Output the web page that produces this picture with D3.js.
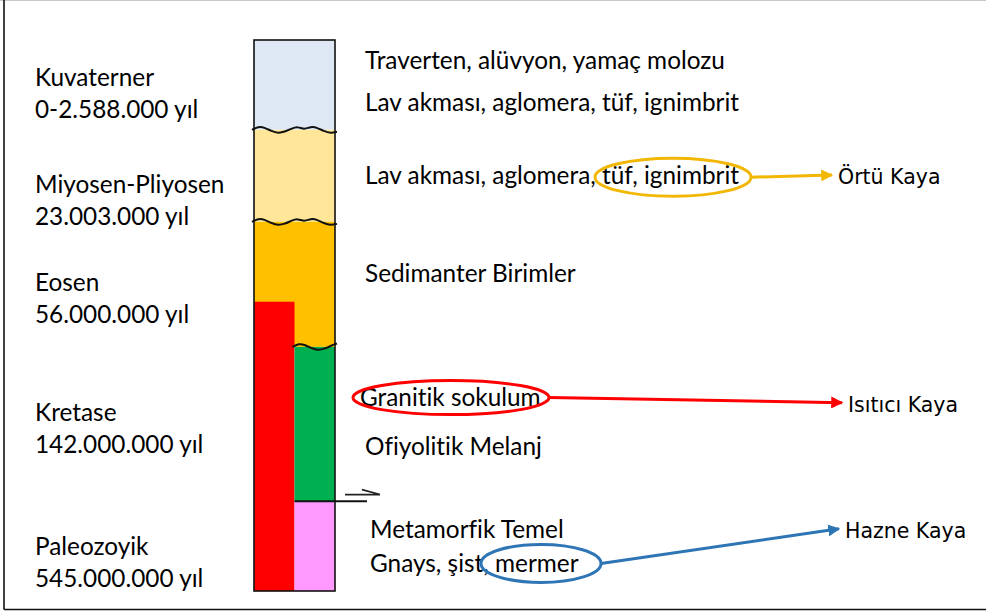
<!DOCTYPE html>
<html>
<head>
<meta charset="utf-8">
<script src="https://cdnjs.cloudflare.com/ajax/libs/d3/7.8.5/d3.min.js"></script>
<style>
  body { margin: 0; background: #fff; }
  svg text { font-family: Lato, "Open Sans", sans-serif; fill: #000; font-variant-ligatures: none; }
</style>
</head>
<body>
<script>
// column depth runs 0 (top) .. 100 (base); column split in two halves 0..2
const periods = ["Kuvaterner", "Miyosen-Pliyosen", "Eosen", "Kretase", "Paleozoyik"];
const periodAges = ["0-2.588.000 yıl", "23.003.000 yıl", "56.000.000 yıl", "142.000.000 yıl", "545.000.000 yıl"];
const periodDepth = [6.9, 26.3, 44.1, 67.7, 92.0];

// layer blocks: [x0, x1, top, bottom]
const layerNames = ["Kuvaterner", "Miyosen-Pliyosen", "Eosen", "Granit", "Ofiyolit", "Metamorfik"];
const layerBox = [[0, 2, 0, 16.3], [0, 2, 16.3, 33], [0, 2, 33, 55.7], [0, 1, 47.5, 100], [1, 2, 55.7, 83.7], [1, 2, 83.7, 100]];
const layerColor = ["#dee8f5", "#ffe699", "#ffc000", "#ff0000", "#00b050", "#ff99ff"];

// unconformities (wavy contacts): [x0, x1, depth]
const contacts = [[0, 2, 16.3], [0, 2, 33], [1, 2, 55.7]];

const unitText = ["Traverten, alüvyon, yamaç molozu", "Lav akması, aglomera, tüf, ignimbrit",
  "Lav akması, aglomera, tüf, ignimbrit", "Sedimanter Birimler", "Granitik sokulum",
  "Ofiyolitik Melanj", "Metamorfik Temel", "Gnays, şist, mermer"];
const unitDepth = [3.8, 11.4, 24.7, 42.5, 64.9, 73.8, 88.9, 95.1];
const unitIndent = [0, 0, 0, 0, -0.25, 0, 0.25, 0.25];

const roles = ["Örtü Kaya", "Isıtıcı Kaya", "Hazne Kaya"];
const roleDepth = [24.7, 66.0, 88.9];
const roleColor = ["#f2b705", "#ff0000", "#2e75b6"];
// ellipse around a word: [cx (text units), depth, rx, ry]
const rings = [[7.95, 24.9, 78, 19], [2.4, 64.9, 98, 17], [4.65, 95.0, 60, 19]];

const W = 986, H = 612;
const svg = d3.select("body").append("svg").attr("width", W).attr("height", H);

const ys = d3.scaleLinear().domain([0, 100]).range([40, 591]);
const xs = d3.scaleLinear().domain([0, 2]).range([254, 335]);

// frame
svg.append("line").attr("x1", 0).attr("x2", W).attr("y1", 0.5).attr("y2", 0.5).attr("stroke", "#c8c8c8");
svg.append("line").attr("x1", 4).attr("x2", 4).attr("y1", 0).attr("y2", 609.5).attr("stroke", "#111").attr("stroke-width", 1.6);
svg.append("line").attr("x1", 4).attr("x2", W).attr("y1", 609.5).attr("y2", 609.5).attr("stroke", "#111").attr("stroke-width", 1.6);

// layers
svg.selectAll("rect.layer").data(layerBox).join("rect")
  .attr("class", "layer")
  .attr("x", d => xs(d[0])).attr("width", d => xs(d[1]) - xs(d[0]))
  .attr("y", d => ys(d[2])).attr("height", d => ys(d[3]) - ys(d[2]))
  .attr("fill", (d, i) => layerColor[i]);

// wavy contacts
const wave = d3.line().curve(d3.curveBasis);
function wavePts(c) {
  const x0 = xs(c[0]) - 2, x1 = xs(c[1]) + 2, y = ys(c[2]);
  const pts = [];
  const n = Math.round((x1 - x0) / 6.7);
  for (let k = 0; k <= n; k++) {
    const x = x0 + (x1 - x0) * k / n;
    const ph = [0, -1, -0.6, 0.4, 1, 0.6, -0.3, -1][k % 8];
    pts.push([x, y + 3.4 * ph]);
  }
  return pts;
}
svg.selectAll("path.contact").data(contacts).join("path")
  .attr("class", "contact")
  .attr("d", d => wave(wavePts(d)))
  .attr("fill", "none").attr("stroke", "#111").attr("stroke-width", 2);

// column outline
svg.append("rect").attr("x", xs(0)).attr("y", ys(0))
  .attr("width", xs(2) - xs(0)).attr("height", ys(100) - ys(0))
  .attr("fill", "none").attr("stroke", "#111").attr("stroke-width", 1.6);

// fault contact with slip half-arrow
svg.append("line").attr("x1", xs(1)).attr("x2", 367).attr("y1", ys(83.7)).attr("y2", ys(83.7))
  .attr("stroke", "#111").attr("stroke-width", 2);
svg.append("path").attr("d", `M345,${ys(82.5)} L380,${ys(82.5)} M362,${ys(81.6)} L380,${ys(82.5)}`)
  .attr("fill", "none").attr("stroke", "#222").attr("stroke-width", 1.6);

// font sizing so the widest unit line fits its space
const probe = svg.append("text").attr("font-size", 100).text(unitText[0]);
const fs = 100 * 360 / probe.node().getComputedTextLength();
probe.remove();

// period labels
svg.selectAll("text.period").data(periods).join("text")
  .attr("class", "period").attr("x", 35).attr("y", (d, i) => ys(periodDepth[i]) + 8)
  .attr("font-size", fs).text(d => d);
svg.selectAll("text.age").data(periodAges).join("text")
  .attr("class", "age").attr("x", 35).attr("y", (d, i) => ys(periodDepth[i]) + 40)
  .attr("font-size", fs).text(d => d);

// unit descriptions
const tx = d3.scaleLinear().domain([0, 1]).range([365, 385]);
svg.selectAll("text.unit").data(unitText).join("text")
  .attr("class", "unit").attr("x", (d, i) => tx(unitIndent[i])).attr("y", (d, i) => ys(unitDepth[i]) + 8)
  .attr("font-size", fs).text(d => d);

// rock role labels
const roleX = [838, 848, 845];
svg.selectAll("text.role").data(roles).join("text")
  .attr("class", "role").attr("x", (d, i) => roleX[i]).attr("y", (d, i) => ys(roleDepth[i]) + 8)
  .style("font-family", "'DejaVu Sans', Verdana, sans-serif")
  .attr("font-size", 20.5).text(d => d);

// ellipses and arrows
const rx = d3.scaleLinear().domain([0, 10]).range([355, 755]);
const defs = svg.append("defs");
roleColor.forEach((c, i) => {
  defs.append("marker").attr("id", "ah" + i).attr("viewBox", "0 0 10 10")
    .attr("refX", 9).attr("refY", 5).attr("markerWidth", 4).attr("markerHeight", 4)
    .attr("orient", "auto").attr("markerUnits", "strokeWidth")
    .append("path").attr("d", "M0,0 L10,5 L0,10 z").attr("fill", c);
});
svg.selectAll("ellipse.ring").data(rings).join("ellipse")
  .attr("class", "ring")
  .attr("cx", d => rx(d[0])).attr("cy", d => ys(d[1]))
  .attr("rx", d => d[2]).attr("ry", d => d[3])
  .attr("fill", "none").attr("stroke", (d, i) => roleColor[i]).attr("stroke-width", 3);
svg.selectAll("line.link").data(rings).join("line")
  .attr("class", "link")
  .attr("x1", d => rx(d[0]) + d[2]).attr("y1", d => ys(d[1]))
  .attr("x2", (d, i) => roleX[i] - 6).attr("y2", (d, i) => ys(roleDepth[i]) - 1)
  .attr("stroke", (d, i) => roleColor[i]).attr("stroke-width", 3)
  .attr("marker-end", (d, i) => `url(#ah${i})`);
</script>
</body>
</html>
